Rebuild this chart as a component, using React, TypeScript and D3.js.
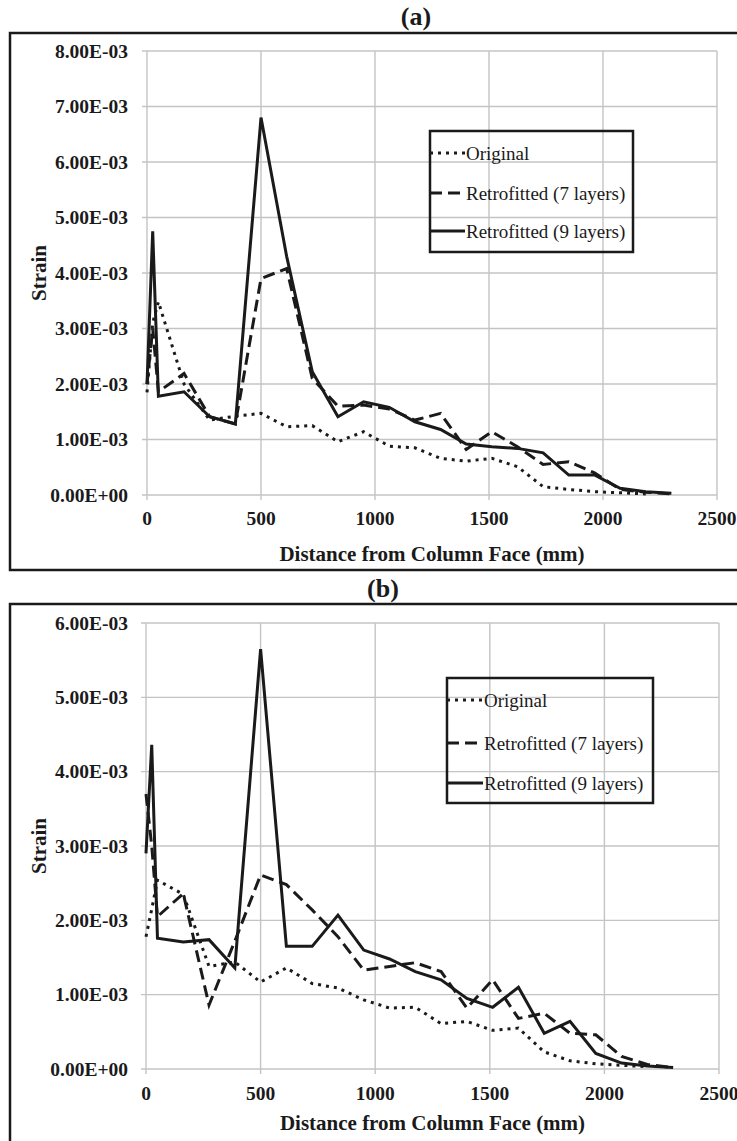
import React from 'react';
import * as d3 from 'd3';

// distance from column face (mm), shared by every series
const distance = [0, 25, 50, 162.5, 275, 387.5, 500, 612.5, 725, 837.5, 950, 1062.5, 1175, 1287.5, 1400, 1512.5, 1625, 1737.5, 1850, 1962.5, 2075, 2187.5, 2300];

const seriesNames = ['Original', 'Retrofitted (7 layers)', 'Retrofitted (9 layers)'];
const xTicks = [0, 500, 1000, 1500, 2000, 2500];
const yTicksA = [0, 1, 2, 3, 4, 5, 6, 7, 8];
const yTicksB = [0, 1, 2, 3, 4, 5, 6];

// strain values in units of 1E-03
const originalA = [1.85, 3.1, 3.48, 2.0, 1.35, 1.42, 1.47, 1.23, 1.25, 0.96, 1.14, 0.88, 0.85, 0.66, 0.61, 0.66, 0.51, 0.15, 0.1, 0.06, 0.04, 0.02, null];
const sevenLayersA = [2.0, 3.0, 1.86, 2.19, 1.41, 1.28, 3.9, 4.08, 2.1, 1.6, 1.62, 1.55, 1.35, 1.47, 0.82, 1.14, 0.87, 0.55, 0.6, 0.4, 0.1, 0.05, 0.02];
const nineLayersA = [2.0, 4.75, 1.78, 1.86, 1.41, 1.28, 6.8, 4.3, 2.22, 1.41, 1.68, 1.58, 1.32, 1.18, 0.92, 0.87, 0.84, 0.76, 0.36, 0.36, 0.12, 0.06, 0.03];

const originalB = [1.78, 2.15, 2.54, 2.35, 1.38, 1.44, 1.17, 1.36, 1.15, 1.09, 0.93, 0.82, 0.83, 0.61, 0.64, 0.52, 0.55, 0.23, 0.11, 0.07, 0.05, 0.03, null];
const sevenLayersB = [3.7, 3.0, 2.05, 2.36, 0.86, 1.72, 2.61, 2.48, 2.14, 1.78, 1.33, 1.38, 1.43, 1.31, 0.82, 1.2, 0.68, 0.75, 0.48, 0.46, 0.17, 0.06, 0.02];
const nineLayersB = [2.9, 4.36, 1.76, 1.71, 1.74, 1.36, 5.65, 1.65, 1.65, 2.07, 1.6, 1.48, 1.31, 1.2, 0.95, 0.83, 1.1, 0.48, 0.64, 0.21, 0.08, 0.04, 0.02];

const FONT = "'Liberation Serif', 'Times New Roman', Times, serif";
const INK = '#1a1a1a';
const GRID = '#c4c4c4';
const dashes = ['3,5', '12,6', undefined];

// Excel-like scientific label, e.g. 8.00E-03
function sci(v: number) {
  const [m, e] = (v * 1e-3).toExponential(2).split('e');
  return `${m}E${e[0]}${e.slice(1).padStart(2, '0')}`;
}

type Cfg = {
  label: string;
  titleX: number; titleY: number;
  frameY: number; frameH: number;
  left: number; right: number; top: number; bottom: number;
  yTicks: number[];
  xLabelY: number; axisTitleY: number;
  legend: { x: number; y: number; w: number; h: number; rows: number[]; sample: number };
};

const txt = { fontFamily: FONT };

function Panel({ cfg, series }: { cfg: Cfg; series: (number | null)[][] }) {
  const x = d3.scaleLinear().domain([0, 2500]).range([cfg.left, cfg.right]);
  const y = d3.scaleLinear().domain([0, d3.max(cfg.yTicks)!]).range([cfg.bottom, cfg.top]);
  const line = d3.line<number | null>()
    .defined(d => d != null)
    .x((d, i) => x(distance[i]))
    .y(d => y(d as number));
  const lg = cfg.legend;
  const midY = (cfg.top + cfg.bottom) / 2;

  return (
    <g>
      <rect x={10} y={cfg.frameY} width={740} height={cfg.frameH} fill="none" stroke={INK} strokeWidth={2.5} />
      <text style={txt} x={cfg.titleX} y={cfg.titleY} textAnchor="middle" fontSize={26} fontWeight="bold" fill={INK}>{cfg.label}</text>

      {xTicks.map(t => (
        <g key={'x' + t}>
          <line x1={x(t)} x2={x(t)} y1={cfg.top} y2={cfg.bottom + 5} stroke={GRID} strokeWidth={1.4} />
          <text style={txt} x={x(t)} y={cfg.xLabelY} textAnchor="middle" fontSize={19.5} fontWeight="bold" fill={INK}>{t}</text>
        </g>
      ))}
      {cfg.yTicks.map(t => (
        <g key={'y' + t}>
          <line x1={cfg.left - 5} x2={cfg.right} y1={y(t)} y2={y(t)} stroke={GRID} strokeWidth={1.4} />
          <text style={txt} x={128} y={y(t)} dy="0.35em" textAnchor="end" fontSize={19.5} fontWeight="bold" fill={INK}>{sci(t)}</text>
        </g>
      ))}

      {series.map((s, i) => (
        <path key={i} d={line(s) ?? ''} fill="none" stroke={INK} strokeWidth={3}
          strokeDasharray={dashes[i]} strokeLinejoin="miter" />
      ))}

      <text style={txt} x={(cfg.left + cfg.right) / 2} y={cfg.axisTitleY} textAnchor="middle" fontSize={21} fontWeight="bold" fill={INK}>
        Distance from Column Face (mm)
      </text>
      <text style={txt} transform={`translate(46,${midY}) rotate(-90)`} textAnchor="middle" fontSize={21} fontWeight="bold" fill={INK}>
        Strain
      </text>

      <rect x={lg.x} y={lg.y} width={lg.w} height={lg.h} fill="none" stroke={INK} strokeWidth={2.5} />
      {seriesNames.map((name, i) => (
        <g key={name}>
          <line x1={lg.x} x2={lg.x + lg.sample} y1={lg.rows[i]} y2={lg.rows[i]} stroke={INK} strokeWidth={3}
            strokeDasharray={dashes[i]} />
          <text style={txt} x={lg.x + lg.sample + 1} y={lg.rows[i]} dy="0.35em" fontSize={19} fill={INK}>{name}</text>
        </g>
      ))}
    </g>
  );
}

const cfgA: Cfg = {
  label: '(a)', titleX: 416, titleY: 25,
  frameY: 33, frameH: 537,
  left: 147, right: 717, top: 51, bottom: 495,
  yTicks: yTicksA, xLabelY: 525, axisTitleY: 561,
  legend: { x: 430, y: 131, w: 203, h: 121, rows: [153, 193, 231], sample: 35 },
};

const cfgB: Cfg = {
  label: '(b)', titleX: 383, titleY: 597,
  frameY: 604, frameH: 600,
  left: 146, right: 719, top: 623, bottom: 1069,
  yTicks: yTicksB, xLabelY: 1100, axisTitleY: 1130,
  legend: { x: 447, y: 678, w: 206, h: 125, rows: [700, 743, 783], sample: 36 },
};

export default function App() {
  return (
    <svg width={737} height={1141} style={{ position: 'absolute', left: 0, top: 0, background: '#fff', fontFamily: FONT }}>
      <rect width={737} height={1141} fill="#fff" />
      <Panel cfg={cfgA} series={[originalA, sevenLayersA, nineLayersA]} />
      <Panel cfg={cfgB} series={[originalB, sevenLayersB, nineLayersB]} />
    </svg>
  );
}
